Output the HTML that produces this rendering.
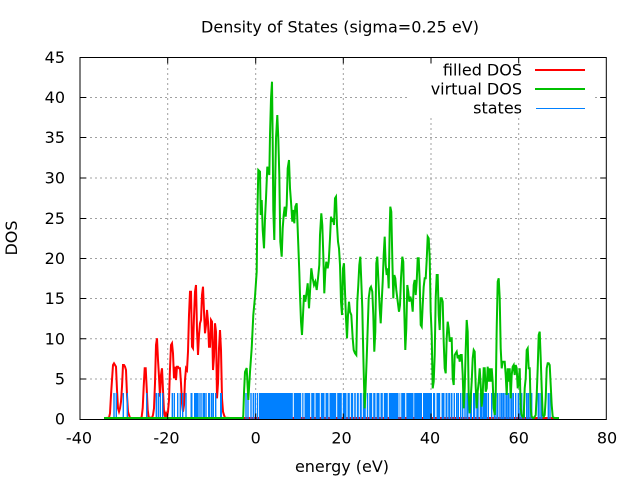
<!DOCTYPE html>
<html><head><meta charset="utf-8"><style>
html,body{margin:0;padding:0;background:#fff;}
svg{display:block;}
text{font-family:"DejaVu Sans","Liberation Sans",sans-serif;font-size:16px;fill:#000;}
</style></head><body>
<svg width="640" height="480" viewBox="0 0 640 480" xmlns="http://www.w3.org/2000/svg">
<rect x="0" y="0" width="640" height="480" fill="#fff"/>
<g stroke="#a0a0a0" stroke-width="1" stroke-dasharray="2,3" fill="none">
<line x1="80" y1="97.5" x2="606" y2="97.5"/>
<line x1="80" y1="137.5" x2="606" y2="137.5"/>
<line x1="80" y1="178" x2="606" y2="178"/>
<line x1="80" y1="218.5" x2="606" y2="218.5"/>
<line x1="80" y1="258.5" x2="606" y2="258.5"/>
<line x1="80" y1="298.5" x2="606" y2="298.5"/>
<line x1="80" y1="338.8" x2="606" y2="338.8"/>
<line x1="80" y1="379" x2="606" y2="379"/>
<line x1="167.7" y1="58" x2="167.7" y2="419"/>
<line x1="255.7" y1="58" x2="255.7" y2="419"/>
<line x1="343.3" y1="58" x2="343.3" y2="419"/>
<line x1="431" y1="58" x2="431" y2="419"/>
<line x1="518.7" y1="58" x2="518.7" y2="419"/>
</g>
<polyline fill="none" stroke="#ff0000" stroke-width="2" points="106,418 109,417.7 110,413.3 111,395 112,380 113,365 114,363.3 115,365 116,366.7 117,390 118,408.3 119,411.7 120,408.3 121,401.7 122,386.7 123,365 124,365 125,366.7 126,370 127,395 128,411.7 129,415 130,418 141,418 141.7,416.7 142.7,408.3 143.7,386.7 144.7,368.3 145.7,368.3 146.7,388.3 147.7,410 148.7,417.3 152,418 153,415 154,408.3 155,383.3 156,345 157,338.3 158,360 159,376.7 160,396.7 161,375 162,368.3 163,390 164,411.7 165,416.7 166,413.3 167,416.7 168,411.7 169,400 170,368.3 171,345 172,343.3 173,353.3 174,378.3 175,366.7 176,380 177,366.7 178,366.7 179,368.3 180,368.3 181,383.3 182,403.3 183,411.7 184,405 185,380 186,368.3 187,370 188,351.7 189,315 190,291.7 191,291.7 192,346.7 193,348.3 194,316.7 195,291.7 196,285 197,330 198,355 199,335 200,323.3 201,320 202,295 203,286.7 204,311.7 205,333.3 206,325 207,310 208,321.7 209,346.7 210,346.7 211,320 212,321.7 213,370 214,356.7 215,323.3 216,331.7 217,398.3 218,383.3 219,348.3 220,330 221,350 222,398.3 223,411.7 224,415 225,417.7 230,418 556,418"/>
<g fill="#0080ff">
<rect x="259" y="393" width="33.8" height="26"/>
<rect x="293.8" y="393" width="7.4" height="26"/>
<rect x="302.2" y="393" width="1.3" height="26"/>
<rect x="304.5" y="393" width="5.7" height="26"/>
<rect x="311.2" y="393" width="3.3" height="26"/>
<rect x="315.5" y="393" width="4.3" height="26"/>
<rect x="320.8" y="393" width="3.7" height="26"/>
<rect x="325.5" y="393" width="3" height="26"/>
<rect x="329.5" y="393" width="6.7" height="26"/>
<rect x="337.2" y="393" width="4.6" height="26"/>
<rect x="342.8" y="393" width="3.7" height="26"/>
<rect x="347.5" y="393" width="2.3" height="26"/>
<rect x="350.8" y="393" width="2.4" height="26"/>
<rect x="354.2" y="393" width="1.6" height="26"/>
<rect x="356.8" y="393" width="2" height="26"/>
<rect x="359.8" y="393" width="2" height="26"/>
<rect x="362.8" y="393" width="3" height="26"/>
<rect x="366.8" y="393" width="1.4" height="26"/>
<rect x="369.2" y="393" width="3" height="26"/>
<rect x="373.2" y="393" width="2.3" height="26"/>
<rect x="376.5" y="393" width="3" height="26"/>
<rect x="380.5" y="393" width="2.3" height="26"/>
<rect x="383.8" y="393" width="4" height="26"/>
<rect x="388.8" y="393" width="9.7" height="26"/>
<rect x="399.5" y="393" width="0.8" height="26"/>
<rect x="401.2" y="393" width="4" height="26"/>
<rect x="406.3" y="393" width="7.2" height="26"/>
<rect x="414.2" y="393" width="7.8" height="26"/>
<rect x="423" y="393" width="9" height="26"/>
<rect x="433" y="393" width="2.2" height="26"/>
<rect x="436.5" y="393" width="3.7" height="26"/>
<rect x="441.5" y="393" width="3" height="26"/>
<rect x="445.5" y="393" width="2" height="26"/>
<rect x="448.2" y="393" width="2" height="26"/>
<rect x="450.8" y="393" width="1.7" height="26"/>
<rect x="190.5" y="393" width="2" height="26"/>
<rect x="194" y="393" width="4" height="26"/>
<rect x="202.5" y="393" width="2.5" height="26"/>
<rect x="208" y="393" width="2.3" height="26"/>
<rect x="220" y="393" width="2" height="26"/>
<rect x="466.3" y="393" width="2.2" height="26"/>
<rect x="469.7" y="393" width="2.3" height="26"/>
<rect x="473" y="393" width="2.3" height="26"/>
<rect x="476.3" y="393" width="2.4" height="26"/>
<rect x="479.7" y="393" width="3" height="26"/>
<rect x="483" y="393" width="4" height="26"/>
</g>
<path stroke="#0080ff" stroke-width="1.4" fill="none" d="M114,393V419M116.3,393V419M123.3,393V419M127.3,393V419M146.7,393V419M156.3,393V419M158.3,393V419M160.3,393V419M162.7,393V419M172.3,393V419M174.3,393V419M177.7,393V419M180.3,393V419M182.7,393V419M186,393V419M199,393V419M201,393V419M206,393V419M211.7,393V419M213.3,393V419M215.7,393V419M246,393V419M248,393V419M251,393V419M253.3,393V419M255.3,393V419M257.5,393V419M454.3,393V419M456.7,393V419M458.3,393V419M460.7,393V419M462.7,393V419M465,393V419M488.3,393V419M491.7,393V419M494.3,393V419M496,393V419M497.7,393V419M500,393V419M501.7,393V419M503.3,393V419M505,393V419M506.7,393V419M508.3,393V419M510,393V419M511.7,393V419M513.3,393V419M515.7,393V419M518.3,393V419M520,393V419M521.7,393V419M524.3,393V419M526.7,393V419M528.3,393V419M530,393V419M531.7,393V419M538.3,393V419M540,393V419M541.7,393V419M548.3,393V419M550,393V419"/>
<polyline fill="none" stroke="#00c000" stroke-width="2" points="104,418 243,418 243.3,415 244,393 245,372 246.7,368 248.3,400 250,372 251.7,348 253.3,315 255,296.7 256.7,271.7 257.3,218.3 258.3,170 260,171.7 260.7,215 261.7,200 262.7,230 264,248.3 265,218.3 266,198.3 267.3,166.7 269.3,175 270,135 271,98.3 272,81.7 272.7,141.7 273.3,210 274.3,240 275.3,175 276,138.3 277.3,115 278.3,138.3 279.3,175 280.3,241.7 281.7,256.7 282.7,228.3 283.7,215 284.7,206.7 285.7,216.7 286.7,205 287.7,168.3 289,160 290,188.3 291,201.7 292.3,221.7 293.3,210 294.3,223.3 295.3,206.7 296.7,203.3 298.3,245 299.3,271.7 300,295 301,321.7 302,335 303,315 304,295 305.3,301.7 306.7,291.7 307.7,283.3 309,308.3 310,291.7 311.3,268.3 312.7,278.3 314,285 315.3,281.7 316.7,290 318,278.3 319.3,265 320,235 321.3,213.3 322.3,225 323.3,255 324.3,293.3 325.3,271.7 326.3,261.7 327.7,268.3 328.7,261.7 330,238.3 331,216.7 332,221.7 333,218.3 334,225 335,198.3 336,196.7 337,225 338,241.7 339,248.3 340,265 341,301.7 342,315 343,268.3 344,263.3 345,291.7 346,318.3 347,338.3 348,315 349,301.7 350,311.7 351.3,315 352.7,338.3 353.7,350 355,353.3 356.3,355 357.3,301.7 358.3,285 359.3,265 360.3,256.7 361.3,281.7 362.3,308.3 363.3,355 364,383.3 364.7,408.3 365.7,385 366.7,358.3 367.7,328.3 368.7,298.3 370,288.3 371,286.7 372.3,291.7 373.3,315 374.3,351.7 375.3,331.7 376.3,263.3 377.3,256.7 378.3,278.3 379.7,308.3 380.7,323.3 381.7,301.7 382.7,281.7 383.7,255 384.7,236.7 385.7,265 386.7,275 387.7,268.3 388.7,288.3 389.7,228.3 390.3,206.7 391.3,211.7 392.3,258.3 393.3,298.3 394.3,275 395.3,278.3 396.3,290 397.3,298.3 399,311.7 400,305 401,278.3 402.3,256.7 403.3,261.7 404.3,311.7 405.3,350 406.3,328.3 407.3,285 408.3,291.7 409.3,301.7 410.3,296.7 411.7,301.7 412.7,311.7 413.7,285 414.7,280 415.7,295 416.7,281.7 417.7,258.3 418.7,258.3 419.7,281.7 420.7,325 421.7,326.7 422.7,305 423.7,286.7 424.7,278.3 425.7,278.3 426.7,260 427.7,236.7 428.7,238.3 429.7,258.3 430.7,311.7 431.7,335 432.7,388.3 433.7,381.7 434.7,355 435.7,298.3 436.7,275 437.7,275 438.7,315 439.7,330 440.7,298.3 441.7,298.3 442.7,301.7 443.7,341.7 444.7,368.3 445.7,373.3 446.7,338.3 447.7,321.7 448.7,328.3 449.7,341.7 450.7,338.3 451.7,338.3 452.7,378.3 453.7,385 454.7,355 455.7,353.3 456.7,351.7 457.7,358.3 458.7,355 459.7,361.7 460.7,355 461.7,355 462.7,375 463.7,408.3 464.7,388.3 465.7,350 466.7,320 467.7,331.7 468.7,395 469.7,413.3 470.7,398.3 471.7,381.7 472.7,358.3 473.7,350 474.7,351.7 475.7,386.7 476.7,408.3 477.7,391.7 478.7,381.7 479.7,368.3 480.7,385 481.7,406.7 482.7,395 483.7,368.3 484.7,368.3 485.7,391.7 486.7,388.3 487.7,366.7 488.7,381.7 489.7,368.3 490.7,381.7 491.7,368.3 492.7,381.7 493.7,408.3 494.7,415 495.7,395 496.7,328.3 497.7,281.7 498.7,278.3 499.7,298.3 500.7,348.3 501.7,368.3 502.7,361.7 503.7,361.7 504.7,361.7 505.7,375 506.7,395 507.7,368.3 508.7,381.7 509.7,368.3 510.7,398.3 511.7,375 512.7,366.7 513.7,365 514.7,375 515.7,365 516.7,368.3 517.7,388.3 518.7,381.7 519.7,368.3 520.7,408.3 521.7,415 522.7,416.7 523.7,416.7 524.7,388.3 525.7,378.3 526.7,350 527.7,348.3 528.7,368.3 529.7,368.3 530.7,408.3 531.7,416.7 532.7,417.7 533.7,418 534.7,416.7 535.7,415 536.7,395 537.7,368.3 538.7,335 539.7,331.7 540.7,358.3 541.7,388.3 542.7,415 543.7,416.7 544.7,415 545.7,398.3 546.7,368.3 547.7,363.3 548.7,363.3 549.7,365 550.7,385 551.7,405 552.7,416.7 553.7,417.7 555,418 559,418"/>
<rect x="410" y="58" width="185" height="58.5" fill="#fff"/>
<rect x="80" y="57.5" width="526.3" height="362" fill="none" stroke="#000" stroke-width="1"/>
<path stroke="#000" stroke-width="1" fill="none" d="M80,97.5h6M80,137.5h6M80,178h6M80,218.5h6M80,258.5h6M80,298.5h6M80,338.8h6M80,379h6M606.3,97.5h-6M606.3,137.5h-6M606.3,178h-6M606.3,218.5h-6M606.3,258.5h-6M606.3,298.5h-6M606.3,338.8h-6M606.3,379h-6M167.7,419.5v-6M255.7,419.5v-6M343.3,419.5v-6M431,419.5v-6M518.7,419.5v-6M167.7,57.5v6M255.7,57.5v6M343.3,57.5v6M431,57.5v6M518.7,57.5v6"/>
<g text-anchor="end">
<text x="65" y="63">45</text>
<text x="65" y="103">40</text>
<text x="65" y="143">35</text>
<text x="65" y="183.5">30</text>
<text x="65" y="224">25</text>
<text x="65" y="264">20</text>
<text x="65" y="304">15</text>
<text x="65" y="344.3">10</text>
<text x="65" y="384.5">5</text>
<text x="65" y="424.5">0</text>
</g>
<g text-anchor="middle">
<text x="79" y="443.5">-40</text>
<text x="166.5" y="443.5">-20</text>
<text x="255.7" y="443.5">0</text>
<text x="341.5" y="443.5">20</text>
<text x="430" y="443.5">40</text>
<text x="518.7" y="443.5">60</text>
<text x="607" y="443.5">80</text>
</g>
<text x="340" y="32.5" text-anchor="middle">Density of States (sigma=0.25 eV)</text>
<text x="342" y="472" text-anchor="middle">energy (eV)</text>
<text transform="translate(17,238) rotate(-90)" text-anchor="middle">DOS</text>
<g text-anchor="end">
<text x="522" y="75.5">filled DOS</text>
<text x="522" y="94.5">virtual DOS</text>
<text x="522" y="113.5">states</text>
</g>
<line x1="535" y1="70" x2="585" y2="70" stroke="#ff0000" stroke-width="2"/>
<line x1="535" y1="89" x2="585" y2="89" stroke="#00c000" stroke-width="2"/>
<line x1="536" y1="108.5" x2="585" y2="108.5" stroke="#0080ff" stroke-width="1"/>
</svg>
</body></html>
